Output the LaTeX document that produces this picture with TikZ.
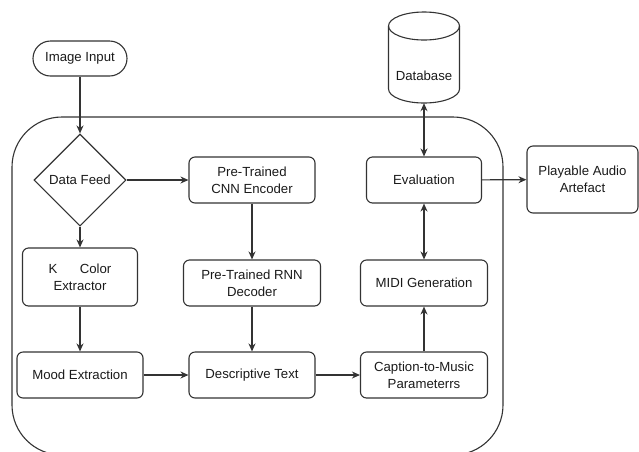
\documentclass[tikz,border=0pt]{standalone}
\usepackage{fontspec}
\setmainfont{Liberation Sans}
\usetikzlibrary{shapes.geometric,arrows.meta}
\definecolor{ln}{HTML}{333333}
\definecolor{tx}{HTML}{1A1A1A}
\begin{document}
\begin{tikzpicture}[x=1pt,y=-1pt,
  every node/.style={font=\fontsize{13.2}{17}\selectfont, text=tx},
  box/.style={draw=ln, line width=1.1pt, rounded corners=6pt, align=center, inner sep=0pt},
  arr/.style={draw=ln, line width=1.1pt, -{Stealth[length=8pt,width=7pt]}},
  darr/.style={draw=ln, line width=1.1pt, {Stealth[length=8pt,width=7pt]}-{Stealth[length=8pt,width=7pt]}}]
\useasboundingbox (0,0) rectangle (639,451);
\begin{scope}
\clip (0,0) rectangle (639,451);
\draw[ln, line width=1.1pt, rounded corners=50pt] (12,117) rectangle (503,455);
\end{scope}
% nodes
\node[box, rounded corners=17.5pt, minimum width=94pt, minimum height=35pt] (img) at (80,58.5) {Image Input};
\node[draw=ln, line width=1.1pt, diamond, minimum width=92pt, minimum height=92pt, inner sep=0pt] (feed) at (80,180) {Data Feed};
\node[box, minimum width=126pt, minimum height=46pt] (cnn) at (252,180) {Pre-Trained\\CNN Encoder};
\node[box, minimum width=115pt, minimum height=58pt] (kcol) at (80,277) {K\hspace{1.7em}Color\\Extractor};
\node[box, minimum width=137pt, minimum height=46pt] (rnn) at (252,283) {Pre-Trained RNN\\Decoder};
\node[box, minimum width=126pt, minimum height=46pt] (mood) at (80,375) {Mood Extraction};
\node[box, minimum width=126pt, minimum height=46pt] (desc) at (252,375) {Descriptive Text};
\node[box, minimum width=127pt, minimum height=46pt] (cap) at (424,375) {Caption-to-Music\\Parameterrs};
\node[box, minimum width=127pt, minimum height=46pt] (midi) at (424,283) {MIDI Generation};
\node[box, minimum width=115pt, minimum height=46pt] (eval) at (424,180) {Evaluation};
\node[box, minimum width=111pt, minimum height=67pt] (play) at (582.5,179.5) {Playable Audio\\Artefact};
% database cylinder
\node[minimum width=71pt, minimum height=91pt, inner sep=0pt] (db) at (424,57.5) {};
\draw[ln, line width=1.1pt] (424,26) ellipse [x radius=35.5, y radius=14];
\draw[ln, line width=1.1pt] (388.5,26) -- (388.5,89) arc[start angle=180, end angle=0, x radius=35.5, y radius=14] -- (459.5,26);
\node at (424,76) {Database};
% connectors
\draw[arr] (img) -- (feed);
\draw[arr] (feed) -- (cnn);
\draw[arr] (feed) -- (kcol);
\draw[arr] (kcol) -- (mood);
\draw[arr] (cnn) -- (rnn);
\draw[arr] (rnn) -- (desc);
\draw[arr] (mood) -- (desc);
\draw[arr] (desc) -- (cap);
\draw[arr] (cap) -- (midi);
\draw[darr] (midi) -- (eval);
\draw[darr] (eval) -- (db.south);
\draw[arr] (eval) -- (play);
\end{tikzpicture}
\end{document}
